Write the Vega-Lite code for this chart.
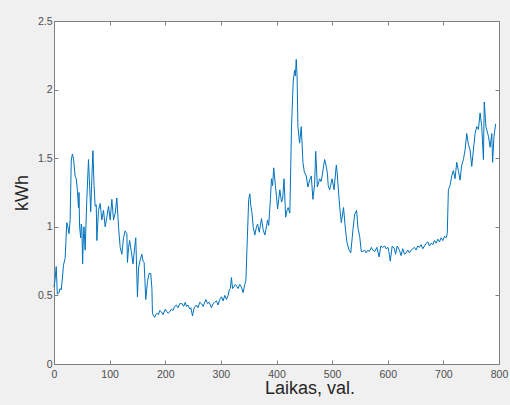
{
  "$schema": "https://vega.github.io/schema/vega-lite/v6.json",
  "width": 445,
  "height": 343,
  "autosize": {"type": "none"},
  "padding": {"left": 54, "top": 21, "right": 11, "bottom": 41},
  "background": "#f0f0f0",
  "config": {
    "view": {"fill": "white", "stroke": "#808080", "strokeWidth": 1},
    "axis": {
      "grid": false,
      "labelFlush": false,
      "domainColor": "#808080",
      "tickColor": "#808080",
      "tickSize": -4,
      "labelColor": "#4d4d4d",
      "labelFont": "Liberation Sans",
      "labelFontSize": 10.5,
      "titleFont": "Liberation Sans",
      "titleFontSize": 18,
      "titleFontWeight": "normal",
      "titleColor": "#262626"
    }
  },
  "data": {"values": [
    {"t":0,"v":0.56},{"t":2,"v":0.62},{"t":4,"v":0.71},{"t":6,"v":0.51},{"t":9,"v":0.52},{"t":11,"v":0.55},{"t":13,"v":0.54},{"t":15,"v":0.62},{"t":17,"v":0.72},{"t":20,"v":0.77},
    {"t":23,"v":1.03},{"t":25,"v":1.0},{"t":27,"v":0.95},{"t":29,"v":1.05},{"t":31,"v":1.48},{"t":33,"v":1.53},{"t":35,"v":1.5},{"t":38,"v":1.37},{"t":40,"v":1.35},{"t":42,"v":1.27},
    {"t":44,"v":1.14},{"t":45,"v":1.25},{"t":46,"v":1.0},{"t":48,"v":0.92},{"t":49,"v":1.02},{"t":50,"v":1.0},{"t":51.5,"v":0.73},{"t":53,"v":0.95},{"t":54,"v":1.0},{"t":56,"v":0.83},
    {"t":59,"v":1.2},{"t":62,"v":1.49},{"t":64,"v":1.3},{"t":66,"v":1.11},{"t":68,"v":1.35},{"t":70,"v":1.555},{"t":72,"v":1.3},{"t":74,"v":1.15},{"t":76,"v":1.16},{"t":77,"v":0.9},
    {"t":80,"v":1.12},{"t":83,"v":1.17},{"t":86,"v":1.05},{"t":89,"v":1.12},{"t":92,"v":1.0},{"t":95,"v":1.07},{"t":98,"v":1.15},{"t":101,"v":1.05},{"t":104,"v":1.2},{"t":107,"v":1.05},
    {"t":110,"v":1.1},{"t":113,"v":1.21},{"t":116,"v":1.0},{"t":119,"v":0.85},{"t":122,"v":0.8},{"t":125,"v":0.92},{"t":128,"v":0.97},{"t":131,"v":0.95},{"t":132,"v":0.74},{"t":134,"v":0.85},
    {"t":136,"v":0.9},{"t":139,"v":0.82},{"t":142,"v":0.73},{"t":145,"v":0.85},{"t":147,"v":0.92},{"t":150,"v":0.49},{"t":152,"v":0.7},{"t":155,"v":0.76},{"t":158,"v":0.8},{"t":160,"v":0.75},
    {"t":162,"v":0.74},{"t":165,"v":0.47},{"t":168,"v":0.6},{"t":171,"v":0.66},{"t":174,"v":0.66},{"t":176,"v":0.55},{"t":177,"v":0.37},{"t":179,"v":0.35},{"t":181,"v":0.34},{"t":183,"v":0.36},
    {"t":185,"v":0.37},{"t":188,"v":0.36},{"t":190,"v":0.39},{"t":193,"v":0.38},{"t":196,"v":0.36},{"t":200,"v":0.4},{"t":203,"v":0.38},{"t":205,"v":0.37},{"t":208,"v":0.38},{"t":211,"v":0.4},
    {"t":214,"v":0.39},{"t":217,"v":0.42},{"t":220,"v":0.43},{"t":223,"v":0.41},{"t":226,"v":0.44},{"t":230,"v":0.44},{"t":233,"v":0.42},{"t":236,"v":0.45},{"t":238,"v":0.42},{"t":241,"v":0.43},
    {"t":244,"v":0.4},{"t":246,"v":0.41},{"t":249,"v":0.35},{"t":252,"v":0.41},{"t":256,"v":0.43},{"t":259,"v":0.41},{"t":262,"v":0.45},{"t":265,"v":0.44},{"t":268,"v":0.42},{"t":271,"v":0.45},
    {"t":273,"v":0.47},{"t":276,"v":0.44},{"t":279,"v":0.45},{"t":283,"v":0.41},{"t":286,"v":0.44},{"t":289,"v":0.45},{"t":292,"v":0.46},{"t":295,"v":0.43},{"t":298,"v":0.47},{"t":301,"v":0.49},
    {"t":304,"v":0.46},{"t":307,"v":0.5},{"t":310,"v":0.47},{"t":313,"v":0.5},{"t":315,"v":0.54},{"t":317,"v":0.55},{"t":319,"v":0.63},{"t":321,"v":0.55},{"t":323,"v":0.56},{"t":326,"v":0.58},
    {"t":328,"v":0.57},{"t":331,"v":0.55},{"t":334,"v":0.58},{"t":337,"v":0.56},{"t":340,"v":0.52},{"t":343,"v":0.58},{"t":345,"v":0.61},{"t":347,"v":0.85},{"t":350,"v":1.2},{"t":352,"v":1.24},
    {"t":354,"v":1.15},{"t":356,"v":1.1},{"t":358,"v":1.0},{"t":361,"v":0.94},{"t":364,"v":1.0},{"t":366,"v":1.02},{"t":369,"v":0.96},{"t":371,"v":1.01},{"t":373,"v":1.06},{"t":376,"v":0.98},
    {"t":379,"v":0.94},{"t":382,"v":1.0},{"t":384,"v":1.05},{"t":386,"v":1.01},{"t":389,"v":1.2},{"t":391,"v":1.35},{"t":393,"v":1.3},{"t":395,"v":1.43},{"t":398,"v":1.3},{"t":400,"v":1.22},
    {"t":402,"v":1.13},{"t":404,"v":1.2},{"t":406,"v":1.27},{"t":409,"v":1.18},{"t":411,"v":1.2},{"t":413.5,"v":1.35},{"t":416.5,"v":1.07},{"t":419,"v":1.12},{"t":421,"v":1.14},{"t":424,"v":1.1},
    {"t":427,"v":1.73},{"t":430,"v":2.06},{"t":432.5,"v":2.14},{"t":434,"v":2.1},{"t":435.5,"v":2.22},{"t":437,"v":2.1},{"t":438.5,"v":1.73},{"t":441.5,"v":1.61},{"t":444.5,"v":1.73},{"t":447.5,"v":1.47},
    {"t":450,"v":1.4},{"t":453.5,"v":1.37},{"t":456.5,"v":1.29},{"t":459.5,"v":1.34},{"t":462.5,"v":1.37},{"t":465.5,"v":1.2},{"t":468.5,"v":1.31},{"t":470.5,"v":1.55},{"t":473.5,"v":1.29},{"t":477.5,"v":1.35},
    {"t":480,"v":1.33},{"t":482,"v":1.37},{"t":486.5,"v":1.49},{"t":489,"v":1.45},{"t":491.5,"v":1.39},{"t":493,"v":1.3},{"t":495.5,"v":1.27},{"t":500,"v":1.35},{"t":503.5,"v":1.27},{"t":507.5,"v":1.45},
    {"t":509,"v":1.4},{"t":510.5,"v":1.31},{"t":513.5,"v":1.15},{"t":516.5,"v":1.03},{"t":520.5,"v":1.14},{"t":523.5,"v":1.0},{"t":526.5,"v":0.89},{"t":530.5,"v":0.83},{"t":533.5,"v":0.81},{"t":537.5,"v":0.98},
    {"t":540.5,"v":1.09},{"t":544,"v":1.12},{"t":546.5,"v":0.99},{"t":549.5,"v":0.93},{"t":552.5,"v":0.82},{"t":555,"v":0.82},{"t":558.5,"v":0.83},{"t":561,"v":0.81},{"t":564.5,"v":0.83},{"t":567,"v":0.82},
    {"t":570.5,"v":0.85},{"t":573,"v":0.83},{"t":576.5,"v":0.82},{"t":580.5,"v":0.85},{"t":584.5,"v":0.78},{"t":587.5,"v":0.86},{"t":591,"v":0.85},{"t":594.5,"v":0.86},{"t":597,"v":0.84},{"t":600.5,"v":0.85},
    {"t":602,"v":0.82},{"t":604.5,"v":0.75},{"t":608,"v":0.86},{"t":612,"v":0.84},{"t":614,"v":0.8},{"t":617,"v":0.86},{"t":621,"v":0.83},{"t":624,"v":0.79},{"t":627,"v":0.84},{"t":630,"v":0.8},
    {"t":633,"v":0.81},{"t":636,"v":0.83},{"t":639,"v":0.81},{"t":642,"v":0.83},{"t":645,"v":0.84},{"t":648,"v":0.85},{"t":651,"v":0.83},{"t":654,"v":0.86},{"t":657,"v":0.85},{"t":660,"v":0.87},
    {"t":663,"v":0.84},{"t":666,"v":0.86},{"t":669,"v":0.88},{"t":672,"v":0.89},{"t":675,"v":0.86},{"t":678,"v":0.88},{"t":681,"v":0.87},{"t":684,"v":0.9},{"t":687,"v":0.88},{"t":690,"v":0.91},
    {"t":693,"v":0.89},{"t":696,"v":0.92},{"t":699,"v":0.9},{"t":702,"v":0.93},{"t":705,"v":0.92},{"t":707,"v":0.95},{"t":709,"v":1.27},{"t":712,"v":1.3},{"t":715,"v":1.37},{"t":718,"v":1.41},
    {"t":721,"v":1.35},{"t":724,"v":1.47},{"t":727,"v":1.41},{"t":730,"v":1.34},{"t":733,"v":1.45},{"t":736,"v":1.49},{"t":739,"v":1.56},{"t":742,"v":1.68},{"t":745,"v":1.6},{"t":748,"v":1.56},
    {"t":751,"v":1.44},{"t":754,"v":1.56},{"t":757,"v":1.68},{"t":760,"v":1.73},{"t":763,"v":1.71},{"t":766,"v":1.83},{"t":769,"v":1.73},{"t":772,"v":1.49},{"t":773.5,"v":1.91},{"t":776.5,"v":1.73},
    {"t":781,"v":1.66},{"t":784,"v":1.58},{"t":787,"v":1.68},{"t":788.5,"v":1.47},{"t":791,"v":1.66},{"t":794,"v":1.75}
  ]},
  "layer": [
    {
      "mark": {"type": "line", "color": "#0072BD", "strokeWidth": 1},
      "encoding": {
        "x": {"field": "t", "type": "quantitative", "scale": {"domain": [0, 800], "nice": false},
              "axis": {"orient": "bottom", "title": "Laikas, val.", "values": [0,100,200,300,400,500,600,700,800], "labelPadding": 9, "titlePadding": 0, "titleX": 255.5}},
        "y": {"field": "v", "type": "quantitative", "scale": {"domain": [0, 2.5], "nice": false, "zero": false},
              "axis": {"orient": "left", "title": "kWh", "format": ".1~f", "values": [0,0.5,1,1.5,2,2.5], "labelPadding": 6, "titlePadding": 6}}
      }
    },
    {
      "mark": {"type": "line", "opacity": 0},
      "encoding": {
        "x": {"field": "t", "type": "quantitative",
              "axis": {"orient": "top", "title": null, "labels": false, "values": [0,100,200,300,400,500,600,700,800]}},
        "y": {"field": "v", "type": "quantitative",
              "axis": {"orient": "right", "title": null, "labels": false, "values": [0,0.5,1,1.5,2,2.5]}}
      }
    }
  ],
  "resolve": {"axis": {"x": "independent", "y": "independent"}}
}
